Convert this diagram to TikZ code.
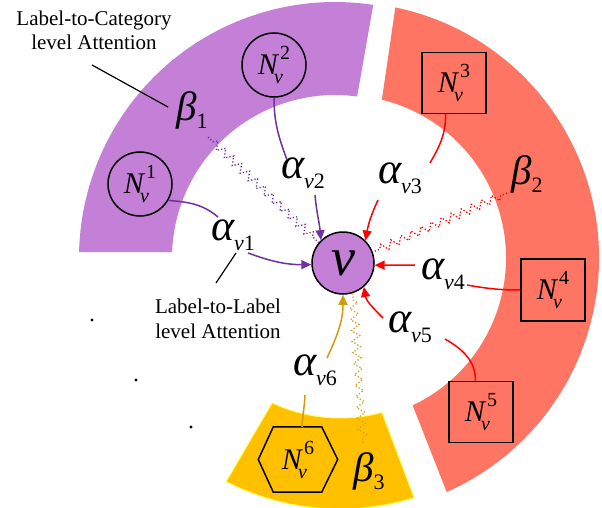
\documentclass[tikz,border=0pt]{standalone}
\usepackage{graphicx}
\usepackage{fontspec}
\setmainfont{Liberation Serif}
\usetikzlibrary{arrows.meta,decorations.pathmorphing}
\definecolor{ppl}{HTML}{C47FD6}
\definecolor{pdark}{HTML}{7030A0}
\definecolor{salmon}{HTML}{FF7563}
\definecolor{gold}{HTML}{FFC000}
\definecolor{goldline}{HTML}{D49B0E}
\definecolor{goldzig}{HTML}{D9A030}
\definecolor{lighty}{HTML}{FFFF66}
\newcommand{\Nv}[1]{{\fontsize{30}{30}\selectfont\textit{N}}\rlap{\kern-5pt\raisebox{-9pt}{\fontsize{20}{20}\selectfont\textit{v}}}\kern1pt\raisebox{15pt}{\fontsize{20}{20}\selectfont #1}}
\newcommand{\alab}[1]{{\fontsize{44}{44}\selectfont\textit{α}}\kern-1pt\raisebox{-10pt}{\fontsize{22}{22}\selectfont\textit{v}#1}}
\newcommand{\blab}[1]{{\fontsize{41}{41}\selectfont\textit{β}}\raisebox{-8pt}{\fontsize{22}{22}\selectfont #1}}
\begin{document}
\begin{tikzpicture}[x=1pt,y=1pt,
  nnode/.style={draw=black, line width=1.5pt, inner sep=0pt},
  conn/.style={line width=1.5pt},
  arr/.style={-{Triangle[length=10pt,width=9pt]}},
  zig/.style={decorate, decoration={zigzag, amplitude=4pt, segment length=11pt, pre length=7pt, post length=4pt}, line width=1.3pt, dash pattern=on 1.3pt off 2pt},
  lbl/.style={inner sep=0pt, anchor=base west},
  txt/.style={font=\fontsize{21}{25}\selectfont, inner sep=0pt, anchor=base}]
\useasboundingbox (0,0) rectangle (602,-508);
% rings
\begin{scope}[shift={(335,-258)}]
\fill[ppl] (178.7:256) arc[start angle=178.7,end angle=81.4,radius=256] -- (82.2:163) arc[start angle=82.2,end angle=177.9,radius=163] -- cycle;
\end{scope}
\begin{scope}[shift={(343,-258)}]
\fill[salmon] (78.2:256) arc[start angle=78.2,end angle=-66.1,radius=256] -- (-64.7:163) arc[start angle=-64.7,end angle=76.2,radius=163] -- cycle;
\end{scope}
\begin{scope}[shift={(340,-258)}]
\filldraw[fill=gold, draw=lighty, line width=1pt] (243:251) arc[start angle=243,end angle=287.2,radius=251] -- (285.2:160) arc[start angle=285.2,end angle=244.9,radius=160] -- cycle;
\end{scope}
% neighbour nodes
\node[nnode, circle, minimum size=64pt] (n1) at (140,-184) {\Nv{1}};
\node[nnode, circle, minimum size=64pt] (n2) at (274,-65) {\Nv{2}};
\node[nnode, minimum width=64pt, minimum height=61pt] (n3) at (454,-83) {\Nv{3}};
\node[nnode, minimum width=64pt, minimum height=62pt] (n4) at (553,-290) {\Nv{4}};
\node[nnode, minimum width=64pt, minimum height=61pt] (n5) at (481,-412) {\Nv{5}};
\node[inner sep=0pt, minimum width=79pt, minimum height=65pt] (n6) at (298,-459.5) {\Nv{6}};
\draw[line width=1.5pt] (n6.west) -- ([xshift=15pt]n6.north west) -- ([xshift=-16pt]n6.north east) -- (n6.east) -- ([xshift=-16pt]n6.south east) -- ([xshift=15pt]n6.south west) -- cycle;
% centre
\node[circle, draw=black, line width=1.5pt, fill=ppl, minimum size=62pt, inner sep=0pt, font=\fontsize{54}{54}\selectfont\itshape] (v) at (343,-263) {v};
% labels
\node[lbl] (a1) at (211,-240) {\alab{1}};
\node[lbl] (a2) at (281,-178) {\alab{2}};
\node[lbl] (a3) at (378,-183) {\alab{3}};
\node[lbl] (a4) at (421,-279) {\alab{4}};
\node[lbl] (a5) at (388,-332) {\alab{5}};
\node[lbl] (a6) at (293,-375) {\alab{6}};
\node[lbl] (b1) at (176,-121) {\blab{1}};
\node[lbl] (b2) at (511,-184) {\blab{2}};
\node[lbl] (b3) at (353,-481) {\blab{3}};
% connector gap ends
\coordinate (c1s) at (218,-217); \coordinate (c1e) at (248,-253);
\coordinate (c2s) at (287,-160); \coordinate (c2e) at (315,-195);
\coordinate (c3s) at (430,-163); \coordinate (c3e) at (378,-200);
\coordinate (c4s) at (467,-285); \coordinate (c4e) at (415,-265);
\coordinate (c5s) at (445,-339); \coordinate (c5e) at (383,-318);
\coordinate (c6s) at (305,-395); \coordinate (c6e) at (327,-358);
\draw[conn,pdark] (n1.-30) to[out=-5,in=140] (c1s);
\draw[conn,pdark,arr] (c1e) to[out=-20,in=180] (v.183);
\draw[conn,pdark] (n2.south) to[out=-90,in=110] (c2s);
\draw[conn,pdark,arr] (c2e) to[out=-85,in=95] (v.134);
\draw[conn,red] (n3.-105) to[out=-90,in=60] (c3s);
\draw[conn,red,arr] (c3e) to[out=-115,in=80] (v.45);
\draw[conn,red] (n4.west) to[out=180,in=-10] (c4s);
\draw[conn,red,arr] (c4e) -- (v.-4);
\draw[conn,red] (n5.100) to[out=90,in=-30] (c5s);
\draw[conn,red,arr] (c5e) to[out=135,in=-80] (v.-49);
\draw[conn,goldline] (n6.83) to[out=88,in=-92] (c6s);
\draw[conn,goldline,arr] (c6e) to[out=65,in=-90] (v.-90);
% zigzags
\coordinate (z1) at (208,-137);
\coordinate (z2) at (507,-193);
\coordinate (z3) at (363,-443);
\draw[zig,pdark] (z1) -- (v.140);
\draw[zig,red] (z2) -- (v.20);
\draw[zig,goldzig] (v.-72) -- (z3);
% annotations
\node[txt] (cat1) at (94,-26) {Label-to-Category};
\node[txt] (cat2) at (94,-50) {level Attention};
\node[txt] (ll1) at (218,-313) {Label-to-Label};
\node[txt] (ll2) at (218,-338) {level Attention};
\coordinate (lc1) at (92,-65); \coordinate (lc2) at (168,-107);
\coordinate (ll3) at (216,-283); \coordinate (ll4) at (236,-253);
\draw[line width=1.2pt] (lc1) -- (lc2);
\draw[line width=1.2pt] (ll3) -- (ll4);
\fill (92,-320) circle (1.6);
\fill (136,-380) circle (1.6);
\fill (191,-427) circle (1.6);
\end{tikzpicture}
\end{document}
